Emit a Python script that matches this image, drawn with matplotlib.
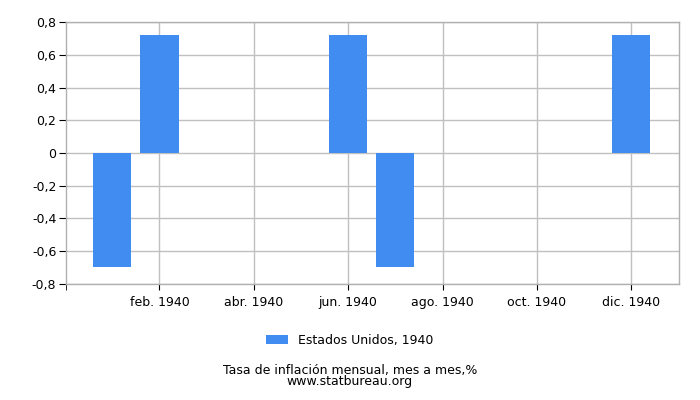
import numpy as np
import matplotlib
matplotlib.use("Agg")
import matplotlib.pyplot as plt
from matplotlib.patches import Patch

# datos: tasa de inflación mensual 1940
months = ["ene. 1940", "feb. 1940", "mar. 1940", "abr. 1940", "may. 1940", "jun. 1940",
          "jul. 1940", "ago. 1940", "sep. 1940", "oct. 1940", "nov. 1940", "dic. 1940"]
values = [-0.70, 0.72, 0, 0, 0, 0.72, -0.70, 0, 0, 0, 0, 0.72]
yticks = [-0.8, -0.6, -0.4, -0.2, 0, 0.2, 0.4, 0.6, 0.8]
series_name = "Estados Unidos, 1940"
bar_color = "#418cf0"

plt.rcParams['font.family'] = ['DejaVu Sans']

fig = plt.figure(figsize=(7, 4), dpi=100)
ax = fig.add_axes([0.0943, 0.291, 0.875, 0.653])

x = np.arange(len(months))
ax.bar(x, values, width=0.81, color=bar_color, zorder=3)

ax.set_xlim(-0.98, 12.0)
ax.set_ylim(-0.8, 0.8)

# ticks cada dos meses, más uno al borde izquierdo
tick_pos = x[1::2]
ax.set_xticks(tick_pos)
ax.set_xticklabels([months[i] for i in tick_pos], fontsize=9)
ax.set_xticks([-0.98], minor=True)
ax.tick_params(axis='x', which='both', length=4, direction='out', color='black', pad=5)

ax.set_yticks(yticks)
ax.set_yticklabels([("%g" % v).replace(".", ",") for v in yticks], fontsize=9)
ax.tick_params(axis='y', length=5, direction='out', color='black', pad=2)

ax.grid(True, color="#c0c0c0", linewidth=1, zorder=0)
for s in ax.spines.values():
    s.set_color("#b0b0b0")
    s.set_linewidth(1)

handles = [Patch(facecolor=bar_color, edgecolor='none')]
fig.legend(handles, [series_name], loc='center', bbox_to_anchor=(0.5, 0.148),
           frameon=False, fontsize=9, handlelength=1.75, handleheight=0.72)

fig.text(0.5, 0.06, "Tasa de inflación mensual, mes a mes,%\nwww.statbureau.org",
         ha='center', va='center', fontsize=9, linespacing=0.88)

plt.savefig("out.png", dpi=100)
